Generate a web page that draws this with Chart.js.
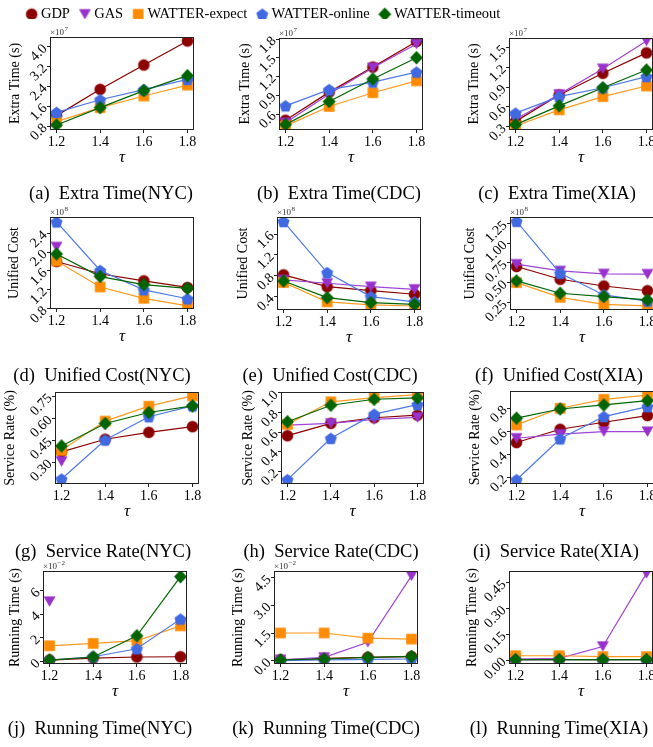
<!DOCTYPE html>
<html><head><meta charset="utf-8">
<script src="https://cdn.jsdelivr.net/npm/chart.js@4.4.0/dist/chart.umd.min.js"></script>
<style>
html,body{margin:0;padding:0;background:#fff;width:653px;height:747px;overflow:hidden;position:relative;font-family:"Liberation Serif","Times New Roman",serif;}
canvas.cv{position:absolute;}
.cap{position:absolute;font-size:18.5px;line-height:20px;white-space:pre;transform:translate(-50%,-50%);color:#000;}
</style></head><body>
<script>
// ---------------- DATA ----------------
const tau = [1.2, 1.4, 1.6, 1.8];
const xTickLabels = ['1.2', '1.4', '1.6', '1.8'];
const seriesNames = ['GDP', 'GAS', 'WATTER-expect', 'WATTER-online', 'WATTER-timeout'];

// rows: GDP, GAS, WATTER-expect, WATTER-online, WATTER-timeout
// Extra Time (x10^7 s)
const extraNYC = [[1.22, 2.28, 3.26, 4.23], [1.15, null, null, null], [0.98, 1.54, 2.01, 2.45], [1.35, 1.86, 2.27, 2.68], [0.84, 1.54, 2.23, 2.83]];
const extraCDC = [[0.50, 0.95, 1.35, 1.76], [0.46, 0.92, 1.34, 1.72], [0.41, 0.72, 0.94, 1.13], [0.73, 0.99, 1.11, 1.27], [0.43, 0.80, 1.16, 1.50]];
const extraXIA = [[0.38, 0.78, 1.11, 1.42], [0.41, 0.79, 1.18, 1.60], [0.31, 0.555, 0.756, 0.917], [0.505, 0.756, 0.89, 1.06], [0.33, 0.616, 0.89, 1.16]];
// Unified Cost (x10^8)
const costNYC = [[1.80, 1.54, 1.39, 1.25], [2.11, null, null, null], [1.81, 1.26, 1.02, 0.86], [2.64, 1.61, 1.20, 1.01], [1.96, 1.48, 1.31, 1.23]];
const costCDC = [[0.817, 0.59, 0.515, 0.445], [0.72, 0.656, 0.59, 0.54], [0.67, 0.30, 0.24, 0.22], [1.84, 0.86, 0.40, 0.30], [0.70, 0.38, 0.284, 0.25]];
const costXIA = [[0.706, 0.545, 0.46, 0.40], [0.735, 0.65, 0.613, 0.61], [0.503, 0.317, 0.229, 0.208], [1.275, 0.62, 0.347, 0.27], [0.524, 0.368, 0.326, 0.284]];
// Service Rate
const rateNYC = [[0.37, 0.456, 0.503, 0.542], [0.304, null, null, null], [0.38, 0.58, 0.682, 0.752], [0.184, 0.451, 0.61, 0.684], [0.41, 0.564, 0.639, 0.684]];
const rateCDC = [[0.564, 0.69, 0.747, 0.774], [0.672, 0.69, 0.73, 0.75], [0.68, 0.91, 0.953, 0.983], [0.115, 0.537, 0.784, 0.882], [0.706, 0.875, 0.936, 0.95]];
const rateXIA = [[0.503, 0.618, 0.679, 0.737], [0.54, 0.575, 0.598, 0.598], [0.656, 0.80, 0.878, 0.915], [0.18, 0.535, 0.728, 0.814], [0.714, 0.794, 0.829, 0.866]];
// Running Time (x10^-2 s for NYC, CDC; s for XIA)
const runNYC = [[0.11, 0.28, 0.37, 0.39], [5.07, null, null, null], [1.32, 1.52, 1.75, 3.01], [0.11, 0.39, 1.07, 3.58], [0.11, 0.37, 2.17, 7.18]];
const runCDC = [[0.05, 0.12, 0.18, 0.22], [0.05, 0.18, 1.0, 4.6], [1.5, 1.5, 1.22, 1.17], [0.0, 0.04, 0.07, 0.09], [0.04, 0.09, 0.18, 0.23]];
const runXIA = [[0.002, 0.002, 0.003, 0.003], [0.006, 0.01, 0.079, 0.504], [0.025, 0.025, 0.02, 0.02], [0.003, 0.003, 0.003, 0.003], [0.003, 0.003, 0.003, 0.003]];

// tick labels
const ticksExtraNYC = ['0.8', '1.6', '2.4', '3.2', '4.0'];
const ticksExtraCDC = ['0.6', '0.9', '1.2', '1.5', '1.8'];
const ticksExtraXIA = ['0.3', '0.6', '0.9', '1.2', '1.5'];
const ticksCostNYC = ['0.8', '1.2', '1.6', '2.0', '2.4'];
const ticksCostCDC = ['0.4', '0.8', '1.2', '1.6'];
const ticksCostXIA = ['0.25', '0.50', '0.75', '1.00', '1.25'];
const ticksRateNYC = ['0.30', '0.45', '0.60', '0.75'];
const ticksRateCDC = ['0.2', '0.4', '0.6', '0.8', '1.0'];
const ticksRateXIA = ['0.2', '0.4', '0.6', '0.8'];
const ticksRunNYC = ['0', '2', '4', '6'];
const ticksRunCDC = ['0.0', '1.5', '3.0', '4.5'];
const ticksRunXIA = ['0.00', '0.15', '0.30', '0.45'];

// ---------------- STYLE / LAYOUT ----------------
const FAM = '"Liberation Serif","Times New Roman",serif';
const markerColors = ['#8b0000', '#9932cc', '#ff8c00', '#4169e1', '#006400'];
const lineColors = ['#8b0000', '#a045d6', '#ff9a20', '#4f78e6', '#006400'];
const shapes = ['circle', 'tri', 'square', 'penta', 'diamond'];

function makeMarker(shape, color) {
  const s = 15, m = s / 2;
  const c = document.createElement('canvas');
  c.width = s; c.height = s;
  const g = c.getContext('2d');
  g.fillStyle = color; g.strokeStyle = color; g.lineWidth = 0.6;
  g.beginPath();
  if (shape === 'circle') g.arc(m, m, 5.5, 0, Math.PI * 2);
  else if (shape === 'tri') { g.moveTo(m - 5.5, m - 4.8); g.lineTo(m + 5.5, m - 4.8); g.lineTo(m, m + 4.8); g.closePath(); }
  else if (shape === 'square') g.rect(m - 5, m - 5, 10, 10);
  else if (shape === 'penta') {
    for (let k = 0; k < 5; k++) {
      const a = -Math.PI / 2 + k * 2 * Math.PI / 5;
      const px = m + 6 * Math.cos(a), py = m + 0.6 + 6 * Math.sin(a);
      if (k === 0) g.moveTo(px, py); else g.lineTo(px, py);
    }
    g.closePath();
  } else if (shape === 'diamond') { g.moveTo(m, m - 6.5); g.lineTo(m + 6.2, m); g.lineTo(m, m + 6.5); g.lineTo(m - 6.2, m); g.closePath(); }
  g.fill(); g.stroke();
  return c;
}
const markerImgs = shapes.map((s, i) => makeMarker(s, markerColors[i]));

// panel layout: plot box (L,T,R,B), y-title centre x, y range, caption centre
const panels = [
  {data: extraNYC, ticks: ticksExtraNYC, ylabel: 'Extra Time (s)', mult: '7', L: 50, T: 37, R: 194, B: 130, tx: 15, min: 0.64, max: 4.39, cap: '(a)  Extra Time(NYC)', cx: 111, cy: 193},
  {data: extraCDC, ticks: ticksExtraCDC, ylabel: 'Extra Time (s)', mult: '7', L: 279, T: 38, R: 423, B: 130, tx: 245, min: 0.344, max: 1.816, cap: '(b)  Extra Time(CDC)', cx: 339, cy: 193},
  {data: extraXIA, ticks: ticksExtraXIA, ylabel: 'Extra Time (s)', mult: '7', L: 509, T: 38, R: 653, B: 130, tx: 474, min: 0.249, max: 1.646, cap: '(c)  Extra Time(XIA)', cx: 557, cy: 193},
  {data: costNYC, ticks: ticksCostNYC, ylabel: 'Unified Cost', mult: '8', L: 50, T: 217, R: 194, B: 309, tx: 14, min: 0.793, max: 2.744, cap: '(d)  Unified Cost(NYC)', cx: 102, cy: 375},
  {data: costCDC, ticks: ticksCostCDC, ylabel: 'Unified Cost', mult: '8', L: 277, T: 217, R: 421, B: 310, tx: 243, min: 0.143, max: 1.927, cap: '(e)  Unified Cost(CDC)', cx: 330, cy: 375},
  {data: costXIA, ticks: ticksCostXIA, ylabel: 'Unified Cost', mult: '8', L: 510, T: 217, R: 654, B: 310, tx: 470, min: 0.157, max: 1.33, cap: '(f)  Unified Cost(XIA)', cx: 559, cy: 375},
  {data: rateNYC, ticks: ticksRateNYC, ylabel: 'Service Rate (%)', mult: null, L: 55, T: 392, R: 199, B: 484, tx: 10, min: 0.150, max: 0.779, cap: '(g)  Service Rate(NYC)', cx: 103, cy: 551},
  {data: rateCDC, ticks: ticksRateCDC, ylabel: 'Service Rate (%)', mult: null, L: 281, T: 392, R: 424, B: 484, tx: 248, min: 0.071, max: 1.01, cap: '(h)  Service Rate(CDC)', cx: 331, cy: 551},
  {data: rateXIA, ticks: ticksRateXIA, ylabel: 'Service Rate (%)', mult: null, L: 510, T: 391, R: 654, B: 484, tx: 475, min: 0.143, max: 0.95, cap: '(i)  Service Rate(XIA)', cx: 556, cy: 551},
  {data: runNYC, ticks: ticksRunNYC, ylabel: 'Running Time (s)', mult: '\u22122', L: 43, T: 571, R: 187, B: 664, tx: 15, min: -0.225, max: 7.66, cap: '(j)  Running Time(NYC)', cx: 100, cy: 728},
  {data: runCDC, ticks: ticksRunCDC, ylabel: 'Running Time (s)', mult: '\u22122', L: 274, T: 571, R: 418, B: 664, tx: 238, min: -0.18, max: 4.86, cap: '(k)  Running Time(CDC)', cx: 326, cy: 728},
  {data: runXIA, ticks: ticksRunXIA, ylabel: 'Running Time (s)', mult: null, L: 509, T: 571, R: 653, B: 664, tx: 472, min: -0.023, max: 0.518, cap: '(l)  Running Time(XIA)', cx: 559, cy: 728}
];

const TOPPAD = 14, XH = 38, RPAD = 12, TITLE_HALF = 8.4;

function framePlugin(mult) {
  return {
    id: 'frame',
    afterDraw(chart) {
      const {ctx, chartArea: a} = chart;
      ctx.save();
      ctx.strokeStyle = '#222'; ctx.lineWidth = 1;
      ctx.strokeRect(a.left + 0.5, a.top + 0.5, a.right - a.left - 1, a.bottom - a.top - 1);
      if (mult) {
        ctx.fillStyle = '#333';
        ctx.textBaseline = 'alphabetic'; ctx.textAlign = 'left';
        ctx.font = '9px ' + FAM;
        const base = '\u00d710';
        ctx.fillText(base, a.left, a.top - 2);
        const w = ctx.measureText(base).width;
        ctx.font = '7px ' + FAM;
        ctx.fillText(mult, a.left + w + 0.5, a.top - 6);
      }
      ctx.restore();
    }
  };
}

function makePanel(p) {
  const left = Math.round(p.tx - TITLE_HALF);
  const yW = p.L - left;
  const W = p.R - left + RPAD;
  const H = TOPPAD + (p.B - p.T) + XH;
  const cv = document.createElement('canvas');
  cv.className = 'cv';
  cv.width = W; cv.height = H;
  cv.style.left = left + 'px'; cv.style.top = (p.T - TOPPAD) + 'px';
  cv.style.width = W + 'px'; cv.style.height = H + 'px';
  document.body.appendChild(cv);
  const yVals = p.ticks.map(Number);
  new Chart(cv, {
    type: 'line',
    data: {
      datasets: seriesNames.map((name, i) => ({
        label: name,
        data: tau.map((x, j) => ({x: x, y: p.data[i][j]})).filter(d => d.y !== null),
        borderColor: lineColors[i],
        backgroundColor: markerColors[i],
        borderWidth: 1.2,
        pointStyle: markerImgs[i],
        pointRadius: 6,
        order: 4 - i,
        fill: false,
        tension: 0
      }))
    },
    options: {
      responsive: false, animation: false, devicePixelRatio: 1, events: [],
      layout: {padding: {top: TOPPAD, right: RPAD, left: 0, bottom: 0}},
      plugins: {legend: {display: false}, tooltip: {enabled: false}},
      scales: {
        x: {
          type: 'linear', min: 1.17, max: 1.83,
          afterBuildTicks: s => { s.ticks = tau.map(v => ({value: v})); },
          afterFit: s => { s.height = XH; },
          ticks: {callback: (v, i) => xTickLabels[i], font: {family: FAM, size: 14}, color: '#000', padding: 1, maxRotation: 0, autoSkip: false},
          grid: {drawOnChartArea: false, tickLength: 3, color: '#222'},
          border: {display: false},
          title: {display: true, text: '\u03c4', font: {family: FAM, size: 17, style: 'italic'}, color: '#000', padding: 0}
        },
        y: {
          type: 'linear', min: p.min, max: p.max,
          afterBuildTicks: s => { s.ticks = yVals.map(v => ({value: v})); },
          afterFit: s => { s.width = yW; },
          ticks: {callback: (v, i) => p.ticks[i], font: {family: FAM, size: 14}, color: '#000', padding: 2, minRotation: 45, maxRotation: 45, autoSkip: false},
          grid: {drawOnChartArea: false, tickLength: 3, color: '#222'},
          border: {display: false},
          title: {display: true, text: p.ylabel, font: {family: FAM, size: 14}, color: '#000', padding: 0}
        }
      }
    },
    plugins: [framePlugin(p.mult)]
  });
  const cap = document.createElement('div');
  cap.className = 'cap';
  cap.textContent = p.cap;
  cap.style.left = p.cx + 'px'; cap.style.top = p.cy + 'px';
  document.body.appendChild(cap);
}

// legend chart
(function () {
  const cv = document.createElement('canvas');
  cv.className = 'cv';
  cv.width = 530; cv.height = 50;
  cv.style.left = '0px'; cv.style.top = '-6px';
  cv.style.width = '530px'; cv.style.height = '50px';
  document.body.appendChild(cv);
  new Chart(cv, {
    type: 'line',
    data: {datasets: seriesNames.map((n, i) => ({label: n, data: [], pointStyle: markerImgs[i], borderColor: lineColors[i], backgroundColor: markerColors[i]}))},
    options: {
      responsive: false, animation: false, devicePixelRatio: 1, events: [],
      scales: {x: {display: false}, y: {display: false}},
      plugins: {
        tooltip: {enabled: false},
        legend: {
          display: true, position: 'top',
          labels: {
            usePointStyle: true, boxWidth: 4, padding: 13, color: '#000',
            font: {family: FAM, size: 14.5},
            generateLabels: chart => seriesNames.map((n, i) => ({
              text: n, pointStyle: markerImgs[i], fillStyle: markerColors[i], strokeStyle: markerColors[i],
              lineWidth: 0, hidden: false, datasetIndex: i, fontColor: '#000'
            }))
          }
        }
      }
    }
  });
})();

panels.forEach(makePanel);
</script>
</body></html>
